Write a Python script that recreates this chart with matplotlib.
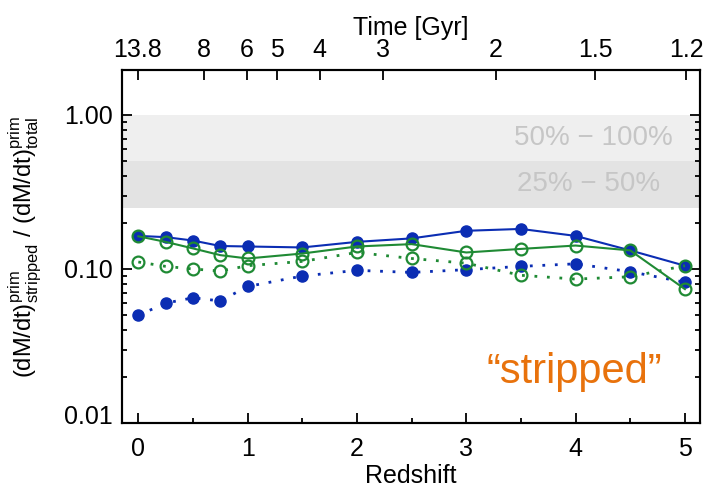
import numpy as np
import matplotlib as mpl
mpl.use('Agg')
import matplotlib.pyplot as plt
from matplotlib.ticker import FixedLocator, FixedFormatter, LogLocator, NullFormatter
from matplotlib.transforms import ScaledTranslation

mpl.rcParams['font.family'] = ['Liberation Sans', 'DejaVu Sans']
mpl.rcParams['mathtext.fontset'] = 'custom'
mpl.rcParams['mathtext.rm'] = 'Liberation Sans'
mpl.rcParams['mathtext.it'] = 'Liberation Sans:italic'
mpl.rcParams['mathtext.bf'] = 'Liberation Sans:bold'
mpl.rcParams['axes.linewidth'] = 1.5

# data
redshift = [0.0, 0.25, 0.5, 0.75, 1.0, 1.5, 2.0, 2.5, 3.0, 3.5, 4.0, 4.5, 5.0]
blue_solid = [0.164, 0.161, 0.153, 0.141, 0.140, 0.138, 0.150, 0.158, 0.177, 0.182, 0.164, 0.132, 0.105]
green_solid = [0.163, 0.150, 0.136, 0.123, 0.117, 0.126, 0.140, 0.145, 0.128, 0.135, 0.142, 0.132, 0.074]
blue_dotted = [0.050, 0.060, 0.065, 0.062, 0.077, 0.090, 0.098, 0.095, 0.099, 0.104, 0.108, 0.096, 0.082]
green_dotted = [0.111, 0.104, 0.100, 0.097, 0.105, 0.112, 0.128, 0.117, 0.109, 0.091, 0.086, 0.089, 0.105]

time_ticks = [13.8, 8, 6, 5, 4, 3, 2, 1.5, 1.2]
time_labels = ['13.8', '8', '6', '5', '4', '3', '2', '1.5', '1.2']

# WMAP9-like cosmology for the top axis
h = 0.704
Om = 0.2726
OL = 1.0 - Om
A = 2.0 / 3.0 * (977.8 / (100.0 * h)) / np.sqrt(OL)
B = np.sqrt(OL / Om)

def z_of_t(t):
    t = np.asarray(t, dtype=float)
    return (np.sinh(t / A) / B) ** (-2.0 / 3.0) - 1.0

blue = '#0b2db3'
green = '#1f8a34'
orange = '#e8720c'

fig = plt.figure(figsize=(7.12, 4.91), dpi=100)
ax = fig.add_axes([0.172, 0.1385, 0.811, 0.719])

ax.axhspan(0.5, 1.0, color='#efefef', lw=0, zorder=0)
ax.axhspan(0.25, 0.5, color='#e3e3e3', lw=0, zorder=0)
ax.text(4.16, 0.71, '50% \u2212 100%', fontsize=20, color='#c6c6c6', ha='center', va='center')
ax.text(4.12, 0.355, '25% \u2212 50%', fontsize=20, color='#c6c6c6', ha='center', va='center')

ax.plot(redshift, blue_dotted, ls=(0, (1, 3.5)), lw=2, color=blue, marker='o', ms=8,
        mfc=blue, mec=blue, zorder=3)
ax.plot(redshift, blue_solid, ls='-', lw=1.5, color=blue, marker='o', ms=8,
        mfc=blue, mec=blue, zorder=3)
ax.plot(redshift, green_dotted, ls=(0, (1, 3.5)), lw=2, color=green, marker='o', ms=8.5,
        mfc='none', mec=green, mew=1.6, zorder=4)
ax.plot(redshift, green_solid, ls='-', lw=1.5, color=green, marker='o', ms=8.5,
        mfc='none', mec=green, mew=1.6, zorder=4)

ax.text(0.935, 0.113, '\u201cstripped\u201d', transform=ax.transAxes, fontsize=30,
        color=orange, ha='right', va='baseline')

ax.set_yscale('log')
ax.set_xlim(-0.145, 5.137)
ax.set_ylim(0.01, 1.96)

ax.yaxis.set_major_locator(FixedLocator([0.01, 0.1, 1.0]))
ax.yaxis.set_major_formatter(FixedFormatter(['0.01', '0.10', '1.00']))
ax.yaxis.set_minor_locator(LogLocator(base=10, subs=np.arange(2, 10)))
ax.yaxis.set_minor_formatter(NullFormatter())
ax.xaxis.set_major_locator(FixedLocator([0, 1, 2, 3, 4, 5]))
ax.xaxis.set_minor_locator(FixedLocator([0.5, 1.5, 2.5, 3.5, 4.5]))

ax.tick_params(which='both', direction='in', top=False, right=True, labelsize=18, width=1.3)
ax.tick_params(which='major', length=7)
ax.tick_params(which='minor', length=3.5)
ax.tick_params(axis='x', pad=10)
ax.tick_params(axis='y', pad=7)

ax.set_xlabel('Redshift', fontsize=18, labelpad=2)
ax.set_ylabel(r'$\mathregular{(dM/dt)^{prim}_{stripped}\ /\ (dM/dt)^{prim}_{total}}$', fontsize=17)
ax.yaxis.set_label_coords(-0.138, 0.5)

ax2 = ax.twiny()
ax2.set_xlim(ax.get_xlim())
ax2.set_xticks(z_of_t(time_ticks))
ax2.set_xticklabels(time_labels)
ax2.tick_params(direction='in', length=7, width=1.3, labelsize=18, pad=6)
ax2.set_xlabel('Time [Gyr]', fontsize=18, labelpad=2)

# the bottom y label sits a little above its tick in the original
fig.canvas.draw()
low = ax.yaxis.get_major_ticks()[0].label1
low.set_transform(low.get_transform() + ScaledTranslation(0, 0.08, fig.dpi_scale_trans))

fig.savefig('out.png', dpi=100)
